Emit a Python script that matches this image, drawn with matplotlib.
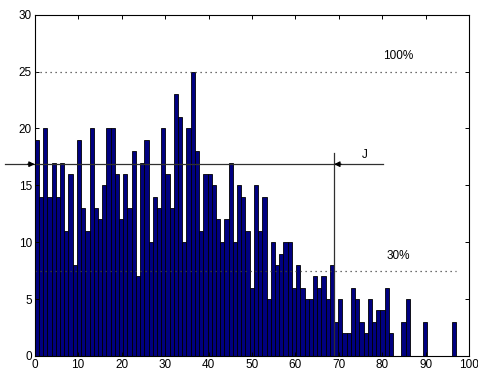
import numpy as np
import matplotlib.pyplot as plt

# histogram counts, 100 bins spanning 0..97
counts = [19, 14, 20, 14, 17, 14, 17, 11, 16, 8,
          19, 13, 11, 20, 13, 12, 15, 20, 20, 16,
          12, 16, 13, 18, 7, 17, 19, 10, 14, 13,
          20, 16, 13, 23, 21, 10, 20, 25, 18, 11,
          16, 16, 15, 12, 10, 12, 17, 10, 15, 14,
          11, 6, 15, 11, 14, 5, 10, 8, 9, 10,
          10, 6, 8, 6, 5, 5, 7, 6, 7, 5,
          8, 3, 5, 2, 2, 6, 5, 3, 2, 5,
          3, 4, 4, 6, 2, 0, 0, 3, 5, 0,
          0, 0, 3, 0, 0, 0, 0, 0, 0, 3]
data_min, data_max = 0, 97
level_100 = 25
level_30 = 7.5
j_level = 16.86
j_x = 68.9

edges = np.linspace(data_min, data_max, len(counts) + 1)

plt.rcParams['font.family'] = ['Liberation Sans', 'DejaVu Sans']
fig = plt.figure(figsize=(4.78, 3.76), dpi=100)
ax = fig.add_axes([0.0726, 0.0532, 0.9092, 0.9077])

ax.bar(edges[:-1], counts, width=np.diff(edges), align='edge',
       color='#000080', edgecolor='black', linewidth=0.6)

# reference levels
dots = (0, (1, 3))
ax.plot([data_min, data_max], [level_100, level_100], color='#404040',
        lw=0.9, linestyle=dots)
ax.plot([data_min, data_max], [level_30, level_30], color='#404040',
        lw=0.9, linestyle=dots)
ax.text(83.6, 26.4, '100%', ha='center', va='center', fontsize=8.5)
ax.text(83.6, 8.8, '30%', ha='center', va='center', fontsize=8.5)

# J marker lines
ax.plot([-6.8, 80.2], [j_level, j_level], '-', color='#303030', lw=0.9,
        clip_on=False)
ax.plot([j_x, j_x], [0, 17.8], '-', color='#303030', lw=0.9)
ax.annotate('', xy=(0, j_level), xytext=(-1.6, j_level),
            arrowprops=dict(arrowstyle='-|>', color='k', lw=0.9,
                            mutation_scale=8, shrinkA=0, shrinkB=0),
            annotation_clip=False)
ax.annotate('', xy=(j_x, j_level), xytext=(j_x + 1.6, j_level),
            arrowprops=dict(arrowstyle='-|>', color='k', lw=0.9,
                            mutation_scale=8, shrinkA=0, shrinkB=0))
ax.text(76, 17.7, 'J', ha='center', va='center', fontsize=8.5)

ax.set_xlim(0, 100)
ax.set_ylim(0, 30)
ax.set_xticks(np.arange(0, 101, 10))
ax.set_yticks(np.arange(0, 31, 5))
ax.tick_params(direction='in', length=3, width=0.7, top=True, right=True,
               labelsize=8.5, pad=2)
for s in ax.spines.values():
    s.set_linewidth(0.8)

fig.savefig('out.png', dpi=100)
